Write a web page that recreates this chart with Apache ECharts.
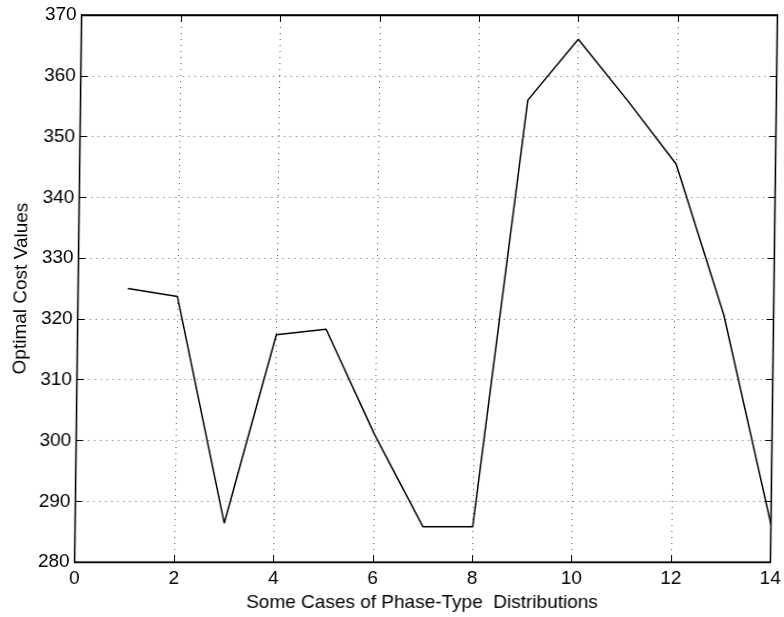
<!DOCTYPE html>
<html>
<head>
<meta charset="utf-8">
<script src="https://cdn.jsdelivr.net/npm/echarts@6/dist/echarts.min.js"></script>
<style>
html,body{margin:0;padding:0;background:#fff;}
#chart{width:784px;height:617px;transform:skewX(-0.73deg);transform-origin:0 564px;}
</style>
</head>
<body>
<div id="chart"></div>
<script>
// Data
var cases = [1, 2, 3, 4, 5, 6, 7, 8, 9, 10, 11, 12, 13, 14];
var costValues = [325.0, 323.7, 286.4, 317.4, 318.3, 301.0, 285.8, 285.8, 356.0, 366.0, 356.0, 345.5, 320.6, 286.2];
var xTicks = [0, 2, 4, 6, 8, 10, 12, 14];
var yTicks = [280, 290, 300, 310, 320, 330, 340, 350, 360, 370];

var seriesData = cases.map(function (c, i) { return [c, costValues[i]]; });

var font = 'Liberation Sans, Arial, Helvetica, sans-serif';
var fs = 19;
var chart = echarts.init(document.getElementById('chart'), null, {renderer: 'canvas'});

function axisCommon(show) {
  return {
    axisLine: {show: true, onZero: false, lineStyle: {color: '#000', width: 1.3}},
    axisTick: {show: true, inside: true, length: 7, lineStyle: {color: '#000', width: 1}},
    axisLabel: {show: show, color: '#000', fontFamily: font, fontSize: fs},
    splitLine: {show: false}
  };
}

var gridLine = {show: true, lineStyle: {color: '#555', width: 1, type: [1, 5]}};

chart.setOption({
  animation: false,
  backgroundColor: '#fff',
  grid: {left: 70, right: 13, top: 15, bottom: 53, containLabel: false,
         show: true, borderColor: '#000', borderWidth: 1.3, backgroundColor: 'transparent'},
  xAxis: [
    Object.assign(axisCommon(true), {
      type: 'value', position: 'bottom',
      min: xTicks[0], max: xTicks[xTicks.length - 1], interval: 2,
      name: 'Some Cases of Phase-Type  Distributions',
      nameLocation: 'middle', nameGap: 28,
      nameTextStyle: {color: '#000', fontFamily: font, fontSize: fs},
      axisLabel: {show: true, color: '#000', fontFamily: font, fontSize: fs, margin: 7},
      splitLine: gridLine
    }),
    Object.assign(axisCommon(false), {
      type: 'value', position: 'top',
      min: xTicks[0], max: xTicks[xTicks.length - 1], interval: 2
    })
  ],
  yAxis: [
    Object.assign(axisCommon(true), {
      type: 'value', position: 'left',
      min: yTicks[0], max: yTicks[yTicks.length - 1], interval: 10,
      name: 'Optimal Cost Values',
      nameLocation: 'middle', nameGap: 41,
      nameTextStyle: {color: '#000', fontFamily: font, fontSize: fs},
      axisLabel: {show: true, color: '#000', fontFamily: font, fontSize: fs, margin: 5},
      splitLine: gridLine
    }),
    Object.assign(axisCommon(false), {
      type: 'value', position: 'right',
      min: yTicks[0], max: yTicks[yTicks.length - 1], interval: 10
    })
  ],
  series: [{
    type: 'line',
    data: seriesData,
    xAxisIndex: 0,
    yAxisIndex: 0,
    symbol: 'none',
    lineStyle: {color: '#000', width: 1.5},
    z: 5
  }]
});
</script>
</body>
</html>
